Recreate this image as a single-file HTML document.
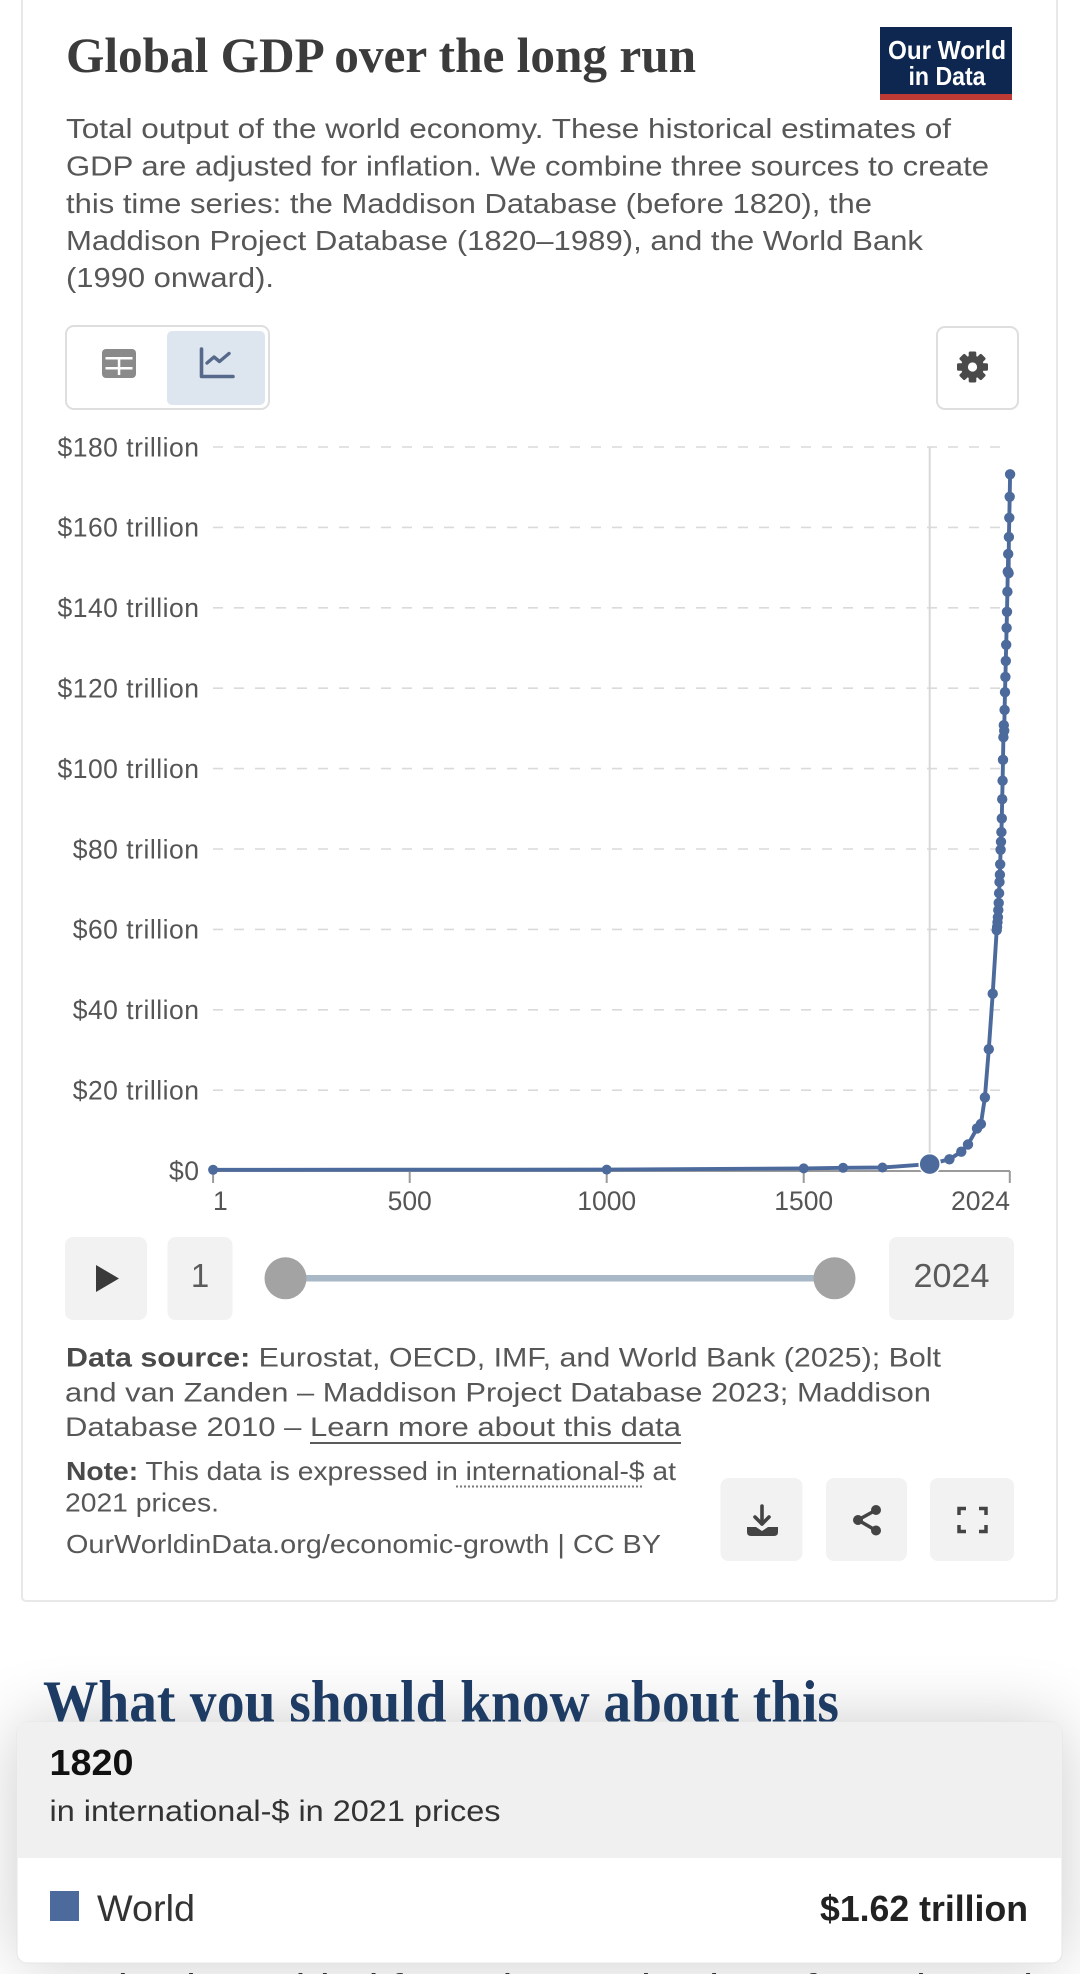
<!DOCTYPE html>
<html><head><meta charset="utf-8"><style>
html,body{margin:0;padding:0;background:#fff;}
body{width:1080px;height:1974px;overflow:hidden;}
svg{display:block;}
.s{font-family:"Liberation Sans",Arial,sans-serif;}
.f{font-family:"Liberation Serif","Times New Roman",serif;}
</style></head><body>
<svg width="1080" height="1974" viewBox="0 0 1080 1974" xmlns="http://www.w3.org/2000/svg">
<defs>
<filter id="blur" x="-20%" y="-80%" width="140%" height="260%"><feGaussianBlur stdDeviation="34"/></filter>
</defs>
<rect width="1080" height="1974" fill="#fff"/>
<!-- card -->
<rect x="22" y="-12" width="1035" height="1613" rx="4" fill="#fff" stroke="#e8e8e8" stroke-width="2"/>

<!-- title -->
<text class="f" x="66" y="72" font-size="50" font-weight="bold" fill="#3b3b3b" textLength="630" lengthAdjust="spacingAndGlyphs">Global GDP over the long run</text>

<!-- logo -->
<rect x="880" y="27" width="132" height="73" fill="#0e2751"/>
<rect x="880" y="94" width="132" height="6" fill="#bd3a35"/>
<text class="s" x="947" y="59" font-size="26" font-weight="bold" fill="#fff" text-anchor="middle" textLength="118" lengthAdjust="spacingAndGlyphs">Our World</text>
<text class="s" x="947" y="85" font-size="26" font-weight="bold" fill="#fff" text-anchor="middle" textLength="77" lengthAdjust="spacingAndGlyphs">in Data</text>

<!-- description -->
<g class="s" font-size="28" fill="#575757">
<text x="66" y="138" textLength="885" lengthAdjust="spacingAndGlyphs">Total output of the world economy. These historical estimates of</text>
<text x="66" y="175.5" textLength="923" lengthAdjust="spacingAndGlyphs">GDP are adjusted for inflation. We combine three sources to create</text>
<text x="66" y="213" textLength="806" lengthAdjust="spacingAndGlyphs">this time series: the Maddison Database (before 1820), the</text>
<text x="66" y="250" textLength="857" lengthAdjust="spacingAndGlyphs">Maddison Project Database (1820–1989), and the World Bank</text>
<text x="66" y="287" textLength="208" lengthAdjust="spacingAndGlyphs">(1990 onward).</text>
</g>

<!-- toggle buttons -->
<rect x="66" y="326" width="203" height="83" rx="8" fill="#fff" stroke="#dedede" stroke-width="2"/>
<rect x="167" y="331" width="98" height="74" rx="5" fill="#dde6ef"/>
<rect x="102" y="349" width="34" height="29" rx="4" fill="#8a8a8a"/>
<rect x="105.5" y="357" width="27" height="2.5" fill="#fff"/>
<rect x="105.5" y="367" width="27" height="2.5" fill="#fff"/>
<rect x="117.8" y="357" width="2.5" height="18" fill="#fff"/>
<path d="M201.5 349 V376.5 H233" fill="none" stroke="#56698a" stroke-width="3.6" stroke-linecap="round" stroke-linejoin="round"/>
<path d="M207 363 L214 357 L219.5 361.5 L229 353.5" fill="none" stroke="#56698a" stroke-width="3.4" stroke-linecap="round" stroke-linejoin="round"/>

<!-- settings -->
<rect x="937" y="327" width="81" height="82" rx="8" fill="#fff" stroke="#dedede" stroke-width="2"/>
<g transform="translate(972.5 367)" fill="#4a4a4a">
<circle r="11.5"/>
<rect x="-3.8" y="-15.5" width="7.6" height="31" rx="1.5"/>
<rect x="-3.8" y="-15.5" width="7.6" height="31" rx="1.5" transform="rotate(45)"/>
<rect x="-3.8" y="-15.5" width="7.6" height="31" rx="1.5" transform="rotate(90)"/>
<rect x="-3.8" y="-15.5" width="7.6" height="31" rx="1.5" transform="rotate(135)"/>
<circle r="4.6" fill="#fff"/>
</g>

<!-- gridlines -->
<g stroke="#dadada" stroke-width="1.6" stroke-dasharray="10 11">
<line x1="213" y1="447" x2="1000" y2="447"/>
<line x1="213" y1="527.4" x2="1000" y2="527.4"/>
<line x1="213" y1="607.8" x2="1000" y2="607.8"/>
<line x1="213" y1="688.2" x2="1000" y2="688.2"/>
<line x1="213" y1="768.6" x2="1000" y2="768.6"/>
<line x1="213" y1="849" x2="1000" y2="849"/>
<line x1="213" y1="929.4" x2="1000" y2="929.4"/>
<line x1="213" y1="1009.8" x2="1000" y2="1009.8"/>
<line x1="213" y1="1090.2" x2="1000" y2="1090.2"/>
</g>
<!-- y labels -->
<g class="s" font-size="26.5" fill="#555" text-anchor="end" letter-spacing="0.5">
<text x="199.5" y="456.3">$180 trillion</text>
<text x="199.5" y="536.7">$160 trillion</text>
<text x="199.5" y="617.1">$140 trillion</text>
<text x="199.5" y="697.5">$120 trillion</text>
<text x="199.5" y="777.9">$100 trillion</text>
<text x="199.5" y="858.3">$80 trillion</text>
<text x="199.5" y="938.7">$60 trillion</text>
<text x="199.5" y="1019.1">$40 trillion</text>
<text x="199.5" y="1099.5">$20 trillion</text>
<text x="199.5" y="1179.9">$0</text>
</g>

<!-- hover line -->
<line x1="929.7" y1="447" x2="929.7" y2="1171" stroke="#d8d8d8" stroke-width="2"/>

<!-- x axis -->
<g stroke="#9a9a9a" stroke-width="2">
<line x1="213" y1="1171" x2="1010" y2="1171"/>
<line x1="213.1" y1="1171" x2="213.1" y2="1183"/>
<line x1="409.7" y1="1171" x2="409.7" y2="1183"/>
<line x1="606.7" y1="1171" x2="606.7" y2="1183"/>
<line x1="803.7" y1="1171" x2="803.7" y2="1183"/>
<line x1="1009.8" y1="1171" x2="1009.8" y2="1183"/>
</g>
<g class="s" font-size="26.5" fill="#555">
<text x="213" y="1210">1</text>
<text x="409.7" y="1210" text-anchor="middle">500</text>
<text x="606.7" y="1210" text-anchor="middle">1000</text>
<text x="803.7" y="1210" text-anchor="middle">1500</text>
<text x="1010" y="1210" text-anchor="end">2024</text>
</g>

<!-- series -->
<polyline fill="none" stroke="#4c6a9c" stroke-width="3.9" stroke-linejoin="round" points="213.1,1169.8 606.7,1169.6 803.7,1168.4 843.1,1167.8 882.5,1167.5 929.7,1164.1 949.4,1159.3 961.3,1151.7 968,1144.5 977,1128.4 980.9,1124 984.9,1097.4 988.8,1049.2 992.7,993.7 996.7,930.2 997.1,927 997.5,922.2 997.9,917.3 998.3,910.1 998.7,902.9 999.1,893.2 999.5,882 999.9,874.7 1000.2,864.3 1000.6,849.8 1001,841.8 1001.4,832.1 1001.8,818.4 1002.2,799.2 1002.6,780.7 1003,759.8 1003.4,737.2 1003.8,725.2 1004.2,730.8 1004.6,709.9 1005,692.2 1005.4,676.9 1005.8,660.9 1006.2,644.8 1006.6,627.9 1007,611.8 1007.4,591.7 1007.8,571.6 1008.2,554 1008.6,573.2 1008.9,537 1009.3,517.8 1009.7,496.8 1010.1,474.3"/>
<g fill="#4c6a9c">
<circle cx="213.1" cy="1169.8" r="5"/><circle cx="606.7" cy="1169.6" r="5"/><circle cx="803.7" cy="1168.4" r="5"/><circle cx="843.1" cy="1167.8" r="5"/><circle cx="882.5" cy="1167.5" r="5"/>
<circle cx="949.4" cy="1159.3" r="5.2"/><circle cx="961.3" cy="1151.7" r="5.2"/><circle cx="968" cy="1144.5" r="5.2"/><circle cx="977" cy="1128.4" r="5.2"/><circle cx="980.9" cy="1124" r="5.2"/><circle cx="984.9" cy="1097.4" r="5.2"/><circle cx="988.8" cy="1049.2" r="5.2"/><circle cx="992.7" cy="993.7" r="5.2"/>
<circle cx="996.7" cy="930.2" r="5.2"/><circle cx="997.1" cy="927" r="5.2"/><circle cx="997.5" cy="922.2" r="5.2"/><circle cx="997.9" cy="917.3" r="5.2"/><circle cx="998.3" cy="910.1" r="5.2"/><circle cx="998.7" cy="902.9" r="5.2"/><circle cx="999.1" cy="893.2" r="5.2"/><circle cx="999.5" cy="882" r="5.2"/><circle cx="999.9" cy="874.7" r="5.2"/><circle cx="1000.2" cy="864.3" r="5.2"/><circle cx="1000.6" cy="849.8" r="5.2"/><circle cx="1001" cy="841.8" r="5.2"/><circle cx="1001.4" cy="832.1" r="5.2"/><circle cx="1001.8" cy="818.4" r="5.2"/><circle cx="1002.2" cy="799.2" r="5.2"/><circle cx="1002.6" cy="780.7" r="5.2"/><circle cx="1003" cy="759.8" r="5.2"/><circle cx="1003.4" cy="737.2" r="5.2"/><circle cx="1003.8" cy="725.2" r="5.2"/><circle cx="1004.2" cy="730.8" r="5.2"/><circle cx="1004.6" cy="709.9" r="5.2"/><circle cx="1005" cy="692.2" r="5.2"/><circle cx="1005.4" cy="676.9" r="5.2"/><circle cx="1005.8" cy="660.9" r="5.2"/><circle cx="1006.2" cy="644.8" r="5.2"/><circle cx="1006.6" cy="627.9" r="5.2"/><circle cx="1007" cy="611.8" r="5.2"/><circle cx="1007.4" cy="591.7" r="5.2"/><circle cx="1007.8" cy="571.6" r="5.2"/><circle cx="1008.2" cy="554" r="5.2"/><circle cx="1008.6" cy="573.2" r="5.2"/><circle cx="1008.9" cy="537" r="5.2"/><circle cx="1009.3" cy="517.8" r="5.2"/><circle cx="1009.7" cy="496.8" r="5.2"/><circle cx="1010.1" cy="474.3" r="5.2"/>
<circle cx="929.7" cy="1164.1" r="10.5" stroke="#fff" stroke-width="1.5"/>
</g>

<!-- timeline -->
<rect x="65" y="1237" width="82" height="83" rx="8" fill="#f2f2f2"/>
<path d="M96 1265 L96 1292 L119 1278.5 Z" fill="#3a3a3a"/>
<rect x="167.5" y="1237" width="65" height="83" rx="8" fill="#f2f2f2"/>
<text class="s" x="200" y="1287" font-size="33" fill="#5b5b5b" text-anchor="middle">1</text>
<line x1="305" y1="1278.3" x2="815" y2="1278.3" stroke="#a8b8c6" stroke-width="6.5"/>
<circle cx="285.5" cy="1278.3" r="21" fill="#a3a3a3"/>
<circle cx="834.5" cy="1278.3" r="21" fill="#a3a3a3"/>
<rect x="889" y="1237" width="125" height="83" rx="8" fill="#f2f2f2"/>
<text class="s" x="951.5" y="1287" font-size="33" fill="#5b5b5b" text-anchor="middle" textLength="76" lengthAdjust="spacingAndGlyphs">2024</text>

<!-- sources -->
<g class="s" font-size="27" fill="#575757">
<text x="66" y="1366.7" textLength="875" lengthAdjust="spacingAndGlyphs"><tspan font-weight="bold" fill="#4a4a4a">Data source:</tspan> Eurostat, OECD, IMF, and World Bank (2025); Bolt</text>
<text x="65" y="1401.4" textLength="866" lengthAdjust="spacingAndGlyphs">and van Zanden – Maddison Project Database 2023; Maddison</text>
<text x="65" y="1436" textLength="616" lengthAdjust="spacingAndGlyphs">Database 2010 – Learn more about this data</text>
</g>
<line x1="310" y1="1443" x2="681" y2="1443" stroke="#5b5b5b" stroke-width="2"/>
<g class="s" font-size="26" fill="#575757">
<text x="66" y="1480" textLength="610" lengthAdjust="spacingAndGlyphs"><tspan font-weight="bold" fill="#4a4a4a">Note:</tspan> This data is expressed in international-$ at</text>
<text x="65" y="1511.5" textLength="154" lengthAdjust="spacingAndGlyphs">2021 prices.</text>
<text x="66" y="1553" textLength="595" lengthAdjust="spacingAndGlyphs">OurWorldinData.org/economic-growth | CC BY</text>
</g>
<line x1="456" y1="1486.5" x2="644" y2="1486.5" stroke="#777" stroke-width="2" stroke-dasharray="2 2"/>

<!-- action buttons -->
<rect x="720.5" y="1478" width="82" height="83" rx="8" fill="#f2f2f2"/>
<rect x="826" y="1478" width="81" height="83" rx="8" fill="#f2f2f2"/>
<rect x="930" y="1478" width="84" height="83" rx="8" fill="#f2f2f2"/>
<g stroke="#444" stroke-width="3.6" fill="none" stroke-linecap="round" stroke-linejoin="round">
<line x1="762" y1="1506" x2="762" y2="1524"/>
<path d="M755 1517 L762 1524 L769 1517"/>
</g>
<path d="M747 1527 H756 L762 1531 L768 1527 H778 V1532 Q778 1536 774 1536 H751 Q747 1536 747 1532 Z" fill="#444"/>
<g fill="#444">
<circle cx="876" cy="1510" r="5"/><circle cx="858" cy="1520" r="5"/><circle cx="876" cy="1530.5" r="5"/>
</g>
<g stroke="#444" stroke-width="3.5"><line x1="876" y1="1510" x2="858" y2="1520"/><line x1="858" y1="1520" x2="876" y2="1530.5"/></g>
<g stroke="#444" stroke-width="3.5" fill="none">
<path d="M959 1515 V1508.5 H966"/><path d="M979 1508.5 H986 V1515"/><path d="M959 1525 V1531.5 H966"/><path d="M979 1531.5 H986 V1525"/>
</g>

<!-- lower section -->
<text class="s" x="45" y="1998" font-size="34" fill="#333" textLength="988" lengthAdjust="spacingAndGlyphs">total value added from the production of goods and</text>
<rect x="17" y="1722" width="1045" height="241" rx="10" fill="#000" opacity="0.2" filter="url(#blur)"/>
<text class="f" x="43" y="1722" font-size="60" font-weight="bold" fill="#1d3b63" textLength="796" lengthAdjust="spacingAndGlyphs">What you should know about this</text>
<rect x="17" y="1722" width="1045" height="241" rx="10" fill="#fff" stroke="#e6e6e6" stroke-width="1"/>
<path d="M17 1858 V1732 Q17 1722 27 1722 H1052 Q1062 1722 1062 1732 V1858 Z" fill="#f0f0f0"/>
<text class="s" x="49.5" y="1775" font-size="36" font-weight="bold" fill="#111" textLength="84" lengthAdjust="spacingAndGlyphs">1820</text>
<text class="s" x="49.5" y="1821" font-size="30" fill="#333" textLength="451" lengthAdjust="spacingAndGlyphs">in international-$ in 2021 prices</text>
<rect x="50" y="1891" width="29" height="30" fill="#4c6a9c"/>
<text class="s" x="97" y="1921" font-size="37" fill="#333" textLength="98" lengthAdjust="spacingAndGlyphs">World</text>
<text class="s" x="1028" y="1921" font-size="36" font-weight="bold" fill="#222" text-anchor="end" textLength="208" lengthAdjust="spacingAndGlyphs">$1.62 trillion</text>
</svg>
</body></html>
